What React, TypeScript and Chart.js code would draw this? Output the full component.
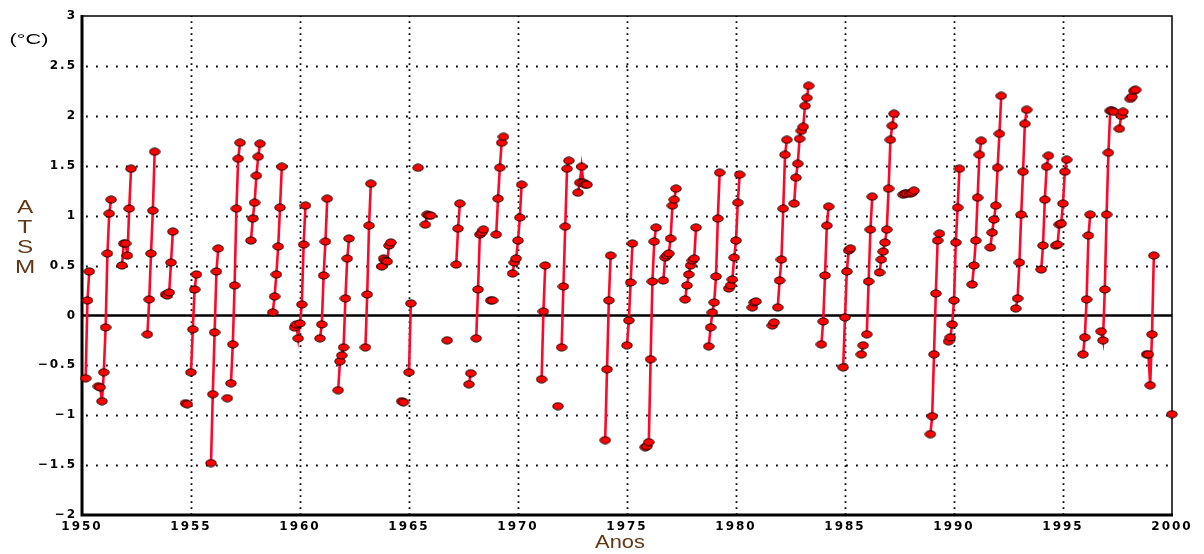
import React, { useEffect, useRef } from "react";
import { Chart, registerables } from "chart.js";

Chart.register(...registerables);

// Start month (YYYY-MM) of each run of consecutive monthly values
const segmentStarts = [
  "1950-03", "1950-10", "1951-11", "1953-01", "1953-11", "1954-10", "1955-01", "1955-12",
  "1956-09", "1956-11", "1957-10", "1958-10", "1959-10", "1960-12", "1961-10", "1963-01",
  "1963-10", "1964-09", "1965-01", "1965-06", "1965-10", "1966-10", "1967-03", "1967-10",
  "1968-02", "1968-10", "1969-01", "1969-10", "1971-02", "1971-11", "1972-01", "1972-10",
  "1974-01", "1975-01", "1975-11", "1976-09", "1977-09", "1978-10", "1979-09", "1980-10",
  "1981-09", "1981-12", "1982-09", "1983-12", "1984-12", "1985-10", "1986-01", "1986-08",
  "1987-09", "1988-01", "1988-12", "1989-10", "1990-11", "1991-09", "1992-11", "1994-01",
  "1994-09", "1995-12", "1996-10", "1997-08", "1998-02", "1998-11", "2000-01",
];

// Monthly SST anomaly values (°C) for each run
const segmentValues = [
  [-0.63, 0.15, 0.44],
  [-0.71, -0.72, -0.86, -0.57, -0.12, 0.62, 1.02, 1.16],
  [0.5, 0.72, 0.72, 0.6, 1.07, 1.47],
  [-0.19, 0.16, 0.62, 1.05, 1.64],
  [0.21, 0.2, 0.23, 0.53, 0.84],
  [-0.88, -0.89],
  [-0.57, -0.14, 0.26, 0.41],
  [-1.48, -0.79, -0.17, 0.44, 0.67],
  [-0.83],
  [-0.68, -0.29, 0.3, 1.07, 1.57, 1.73],
  [0.75, 0.97, 1.13, 1.4, 1.59, 1.72],
  [0.03, 0.19, 0.41, 0.69, 1.08, 1.49],
  [-0.12, -0.09, -0.23, -0.08, 0.11, 0.71, 1.1],
  [-0.23, -0.09, 0.4, 0.74, 1.17],
  [-0.75, -0.46, -0.4, -0.32, 0.17, 0.57, 0.77],
  [-0.32, 0.21, 0.9, 1.32],
  [0.49, 0.57, 0.55, 0.54, 0.7, 0.73],
  [-0.86, -0.87],
  [-0.57, 0.12],
  [1.48],
  [0.91, 1.01, 1.0, 1.0],
  [-0.25],
  [0.51, 0.87, 1.12],
  [-0.69, -0.58],
  [-0.23, 0.26, 0.81, 0.83, 0.86],
  [0.15, 0.15],
  [0.81, 1.17, 1.48, 1.73, 1.79],
  [0.42, 0.53, 0.57, 0.75, 0.98, 1.31],
  [-0.64, 0.04, 0.5],
  [-0.91],
  [-0.32, 0.29, 0.89, 1.47, 1.55],
  [1.23, 1.33, 1.49, 1.33, 1.31, 1.31],
  [-1.25, -0.54, 0.15, 0.6],
  [-0.3, -0.05, 0.33, 0.72],
  [-1.32, -1.31, -1.27, -0.44, 0.34, 0.74, 0.88],
  [0.35, 0.58, 0.6, 0.62, 0.77, 1.1, 1.16, 1.27],
  [0.16, 0.3, 0.41, 0.5, 0.55, 0.57, 0.88],
  [-0.31, -0.12, 0.03, 0.13, 0.39, 0.97, 1.43],
  [0.27, 0.3, 0.36, 0.58, 0.75, 1.13, 1.41],
  [0.08, 0.13, 0.14],
  [-0.1, -0.07],
  [0.08, 0.35, 0.56, 1.07, 1.61, 1.76],
  [1.12, 1.38, 1.52, 1.77, 1.85, 1.89, 2.1, 2.18, 2.3],
  [-0.29, -0.06, 0.4, 0.9, 1.09],
  [-0.52, -0.02, 0.44, 0.65, 0.67],
  [-0.39, -0.3],
  [-0.19, 0.34, 0.86, 1.19],
  [0.43, 0.56, 0.64, 0.73, 0.86, 1.27, 1.76, 1.9, 2.02],
  [1.21, 1.22, 1.22],
  [1.22, 1.23, 1.25],
  [-1.19, -1.01, -0.39, 0.22, 0.75, 0.82],
  [-0.26, -0.22, -0.09, 0.15, 0.73, 1.08, 1.47],
  [0.31, 0.5, 0.75, 1.18, 1.61, 1.75],
  [0.68, 0.83, 0.96, 1.1, 1.48, 1.82, 2.2],
  [0.07, 0.17, 0.53, 1.01, 1.44, 1.92, 2.06],
  [0.46, 0.7, 1.16, 1.49, 1.6],
  [0.7, 0.71, 0.91, 0.92, 1.12, 1.44, 1.56],
  [-0.39, -0.22, 0.16, 0.8, 1.01],
  [-0.16, -0.25, 0.26, 1.01, 1.63, 2.05, 2.05, 2.04],
  [1.87, 2.0, 2.04],
  [2.17, 2.19, 2.25, 2.26],
  [-0.39, -0.39, -0.7, -0.19, 0.6],
  [-0.99],
];

const xTickYears = [1950, 1955, 1960, 1965, 1970, 1975, 1980, 1985, 1990, 1995, 2000];
const yTickValues = [-2, -1.5, -1, -0.5, 0, 0.5, 1, 1.5, 2, 2.5, 3];

const yTitleLetters = ["A", "T", "S", "M"];
const unitLabel = "(°C)";
const xTitle = "Anos";

function buildPoints() {
  const pts: { x: number; y: number | null }[] = [];
  segmentStarts.forEach((start, si) => {
    const [yr, mo] = start.split("-").map(Number);
    const vals = segmentValues[si];
    vals.forEach((v, k) => {
      pts.push({ x: yr + (mo - 1 + k) / 12, y: v });
    });
    const lastX = yr + (mo - 1 + vals.length - 1) / 12;
    pts.push({ x: lastX + 1 / 24, y: null });
  });
  return pts;
}

function fmtY(v: number) {
  const r = Math.round(v * 10) / 10;
  if (r === 0) return "0";
  return (r < 0 ? "\u2212" : "") + String(Math.abs(r));
}

export default function App() {
  const ref = useRef<HTMLCanvasElement | null>(null);

  useEffect(() => {
    const canvas = ref.current;
    if (!canvas) return;

    const pointImg = document.createElement("canvas");
    pointImg.width = 12;
    pointImg.height = 9;
    const pc = pointImg.getContext("2d")!;
    pc.beginPath();
    pc.ellipse(6, 4.5, 5.2, 3.6, 0, 0, Math.PI * 2);
    pc.fillStyle = "#ff0000";
    pc.fill();
    pc.lineWidth = 1;
    pc.strokeStyle = "#1a0000";
    pc.stroke();

    const drawStretched = (
      ctx: CanvasRenderingContext2D,
      text: string,
      x: number,
      y: number,
      font: string,
      color: string,
      sx: number
    ) => {
      ctx.save();
      ctx.font = font;
      ctx.fillStyle = color;
      ctx.textAlign = "center";
      ctx.textBaseline = "middle";
      ctx.translate(x, y);
      ctx.scale(sx, 1);
      ctx.fillText(text, 0, 0);
      ctx.restore();
    };

    const decor = {
      id: "decor",
      beforeDraw(chart: any) {
        (chart.ctx as any).letterSpacing = "2px";
      },
      beforeDatasetsDraw(chart: any) {
        const ctx = chart.ctx as CanvasRenderingContext2D;
        const { left, right, top, bottom } = chart.chartArea;
        const xs = chart.scales.x;
        const ys = chart.scales.y;
        ctx.save();
        ctx.strokeStyle = "#000";
        // dotted grid
        ctx.lineWidth = 1.8;
        ctx.setLineDash([1.8, 8.2]);
        yTickValues.forEach((v) => {
          if (v === 0 || v === 3 || v === -2) return;
          const py = Math.round(ys.getPixelForValue(v)) + 0.5;
          ctx.beginPath();
          ctx.moveTo(left + 4, py);
          ctx.lineTo(right, py);
          ctx.stroke();
        });
        ctx.setLineDash([1.8, 4.2]);
        xTickYears.forEach((v) => {
          if (v === 1950 || v === 2000) return;
          const px = Math.round(xs.getPixelForValue(v)) + 0.5;
          ctx.beginPath();
          ctx.moveTo(px, bottom);
          ctx.lineTo(px, top);
          ctx.stroke();
        });
        ctx.setLineDash([]);
        // zero line
        const y0 = ys.getPixelForValue(0);
        ctx.lineWidth = 2.5;
        ctx.beginPath();
        ctx.moveTo(left, y0);
        ctx.lineTo(right, y0);
        ctx.stroke();
        // frame
        ctx.lineWidth = 1.5;
        ctx.beginPath();
        ctx.moveTo(left, top);
        ctx.lineTo(right, top);
        ctx.lineTo(right, bottom);
        ctx.stroke();
        ctx.lineWidth = 3;
        ctx.beginPath();
        ctx.moveTo(left, top - 1);
        ctx.lineTo(left, bottom);
        ctx.lineTo(right + 1, bottom);
        ctx.stroke();
        ctx.restore();
      },
      afterDraw(chart: any) {
        const ctx = chart.ctx as CanvasRenderingContext2D;
        (ctx as any).letterSpacing = "0px";
        const brown = "#603814";
        yTitleLetters.forEach((ch, i) => {
          drawStretched(ctx, ch, 25, 208 + i * 20, "18px 'Liberation Sans', Arial, sans-serif", brown, 1.35);
        });
        drawStretched(ctx, unitLabel, 29, 40, "14px 'Liberation Sans', Arial, sans-serif", "#000", 1.55);
        drawStretched(ctx, xTitle, 620, 543, "19px 'Liberation Sans', Arial, sans-serif", brown, 1.15);
      },
    };

    const tickFont = { family: "'DejaVu Sans', sans-serif", size: 12, weight: "bold" as const };

    const chart = new Chart(canvas, {
      type: "line",
      data: {
        datasets: [
          {
            data: buildPoints() as any,
            borderColor: "#ff0828",
            borderWidth: 2.6,
            pointStyle: pointImg as any,
            pointRadius: 5,
            pointHoverRadius: 5,
            spanGaps: false,
            tension: 0,
            fill: false,
            clip: false as any,
          },
        ],
      },
      options: {
        animation: false,
        responsive: false,
        events: [],
        layout: { padding: { top: 16, right: 32, left: 0, bottom: 0 } },
        plugins: {
          legend: { display: false },
          tooltip: { enabled: false },
          title: { display: false },
        },
        scales: {
          x: {
            type: "linear",
            min: 1950,
            max: 2000,
            afterBuildTicks: (s: any) => {
              s.ticks = xTickYears.map((v) => ({ value: v }));
            },
            afterFit: (s: any) => {
              s.height = 39;
            },
            grid: { display: false, drawTicks: false },
            border: { display: false },
            ticks: {
              autoSkip: false,
              maxRotation: 0,
              padding: 5,
              color: "#000",
              font: tickFont,
              callback: (v: any) => String(v),
            },
          },
          y: {
            type: "linear",
            min: -2,
            max: 3,
            afterBuildTicks: (s: any) => {
              s.ticks = yTickValues.map((v) => ({ value: v }));
            },
            afterFit: (s: any) => {
              s.width = 82;
            },
            grid: { display: false, drawTicks: false },
            border: { display: false },
            ticks: {
              autoSkip: false,
              padding: 5,
              color: "#000",
              font: tickFont,
              callback: (v: any) => fmtY(Number(v)),
            },
          },
        },
      },
      plugins: [decor as any],
    });

    return () => {
      chart.destroy();
    };
  }, []);

  return (
    <div style={{ position: "fixed", left: 0, top: 0, width: 1204, height: 554, background: "#fff" }}>
      <canvas ref={ref} width={1204} height={554} style={{ display: "block" }} />
    </div>
  );
}
